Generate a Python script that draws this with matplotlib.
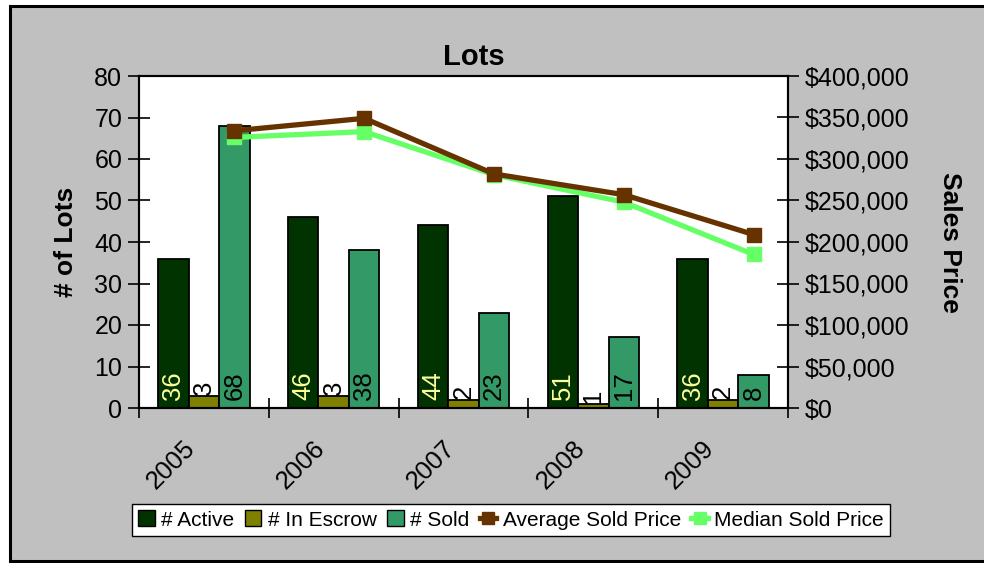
import numpy as np
import matplotlib
matplotlib.use("Agg")
import matplotlib.pyplot as plt
from matplotlib.patches import Rectangle, Patch
from matplotlib.lines import Line2D
from matplotlib.ticker import FuncFormatter, MultipleLocator, FixedLocator

plt.rcParams['font.family'] = ['Liberation Sans', 'DejaVu Sans']

# === data ===
years = ["2005", "2006", "2007", "2008", "2009"]
active = [36, 46, 44, 51, 36]
escrow = [3, 3, 2, 1, 2]
sold = [68, 38, 23, 17, 8]
avg_price = [334000, 349000, 282000, 257000, 209000]
median_price = [326000, 333000, 281000, 248000, 185000]

c_active = "#003300"
c_escrow = "#808000"
c_sold = "#339966"
c_avg = "#663300"
c_median = "#66FF66"
gray = "#C0C0C0"

W, H = 984, 563
fig = plt.figure(figsize=(W / 100, H / 100), dpi=100, facecolor="white")

# chart area: gray box with black border
fig.patches.append(Rectangle((10 / W, 1 - 561 / H), 1.0, (561 - 6) / H,
                             transform=fig.transFigure, facecolor=gray,
                             edgecolor="black", linewidth=2.2, zorder=-10))

ax = fig.add_axes([139 / W, 1 - 408 / H, (788 - 139) / W, (408 - 76) / H])
ax.set_facecolor("white")
ax2 = ax.twinx()

x = np.arange(len(years))
bw = 0.235
bar_kw = dict(edgecolor="black", linewidth=1.3, zorder=2)
b1 = ax.bar(x - bw, active, bw, color=c_active, label="# Active", **bar_kw)
b2 = ax.bar(x, escrow, bw, color=c_escrow, label="# In Escrow", **bar_kw)
b3 = ax.bar(x + bw, sold, bw, color=c_sold, label="# Sold", **bar_kw)

# value labels (inside base)
lab_kw = dict(textcoords="offset points", ha="center", va="bottom",
              rotation=90, fontsize=18.5)
for i in range(len(years)):
    ax.annotate(str(active[i]), (x[i] - bw, 0), xytext=(0, 6),
                color="#FFFF99", **lab_kw)
    ax.annotate(str(escrow[i]), (x[i], escrow[i]), xytext=(0, 0.5),
                color="black", **lab_kw)
    ax.annotate(str(sold[i]), (x[i] + bw, 0), xytext=(0, 6),
                color="black", **lab_kw)

ax.set_ylim(0, 80)
ax.set_xlim(-0.5, len(years) - 0.5)
ax.yaxis.set_major_locator(MultipleLocator(10))
# category labels sit a little left of the category centre
ax.set_xticks(x - 0.16)
ax.set_xticklabels(years, rotation=45, ha="right", va="top",
                   rotation_mode="anchor", fontsize=18.5)
ax.xaxis.set_minor_locator(FixedLocator(np.arange(-0.5, len(years), 1.0)))
ax.tick_params(axis="x", which="major", length=0, pad=20)
ax.tick_params(axis="x", which="minor", direction="inout", length=14, width=1.2)
ax.tick_params(axis="y", direction="inout", length=16, width=1.2,
               labelsize=18, pad=4)
ax.set_ylabel("# of Lots", fontsize=19, fontweight="bold", labelpad=12)

# price lines on the secondary axis
ax2.plot(x + bw, median_price, color=c_median, lw=3.8, marker="s",
         markersize=10, zorder=3)
ax2.plot(x + bw, avg_price, color=c_avg, lw=3.8, marker="s",
         markersize=10, zorder=4)
ax2.set_ylim(0, 400000)
ax2.yaxis.set_major_locator(MultipleLocator(50000))
ax2.yaxis.set_major_formatter(FuncFormatter(lambda v, p: "${:,.0f}".format(v)))
ax2.tick_params(axis="y", direction="inout", length=16, width=1.2,
                labelsize=18, pad=4)
ax2.set_ylabel("Sales Price", fontsize=19, fontweight="bold", rotation=270,
               labelpad=38)

for a in (ax, ax2):
    for s in a.spines.values():
        s.set_linewidth(1.5)
        s.set_color("black")

fig.text(474 / W, 1 - 57 / H, "Lots", fontsize=21, fontweight="bold",
         ha="center", va="center")

handles = [
    Patch(facecolor=c_active, edgecolor="black", label="# Active"),
    Patch(facecolor=c_escrow, edgecolor="black", label="# In Escrow"),
    Patch(facecolor=c_sold, edgecolor="black", label="# Sold"),
    Line2D([], [], color=c_avg, lw=3.8, marker="s", markersize=8,
           label="Average Sold Price"),
    Line2D([], [], color=c_median, lw=3.8, marker="s", markersize=8,
           label="Median Sold Price"),
]
leg = fig.legend(handles=handles, loc="center", ncol=5,
                 bbox_to_anchor=(511 / W, 1 - 520 / H), fontsize=15,
                 frameon=True, fancybox=False, edgecolor="black",
                 framealpha=1, handlelength=0.8, handleheight=0.8,
                 handletextpad=0.3, columnspacing=0.5, borderpad=0.3)
leg.get_frame().set_linewidth(1.0)

fig.savefig("out.png", dpi=100, facecolor=fig.get_facecolor())
